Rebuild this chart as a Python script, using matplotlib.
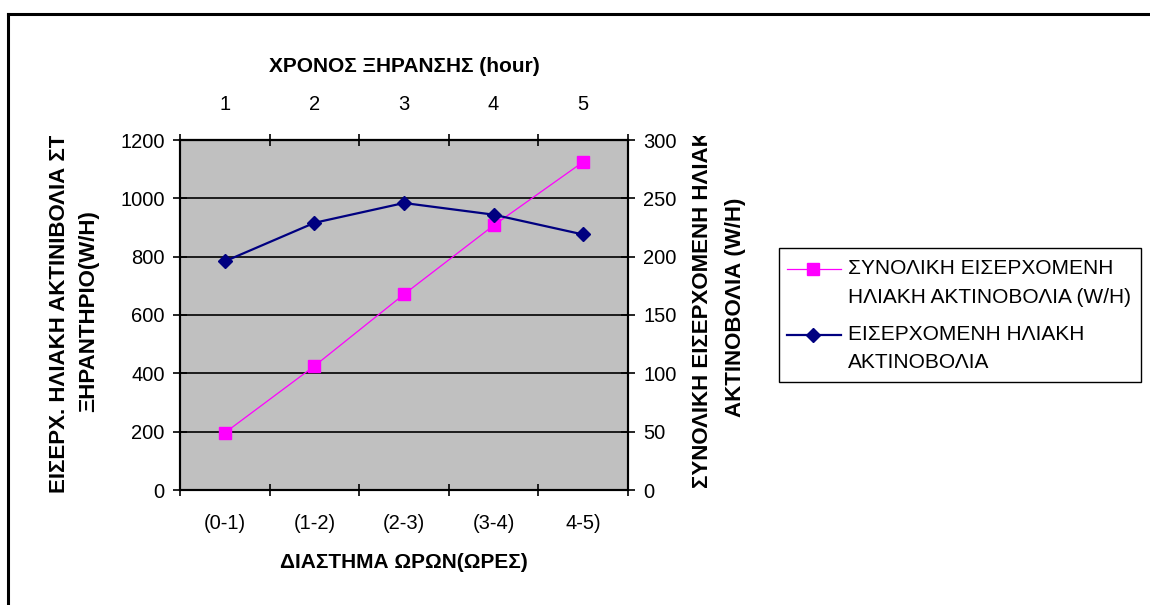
import matplotlib
matplotlib.use("Agg")
import matplotlib.pyplot as plt
from matplotlib.lines import Line2D
from matplotlib.patches import Rectangle
from matplotlib.transforms import Bbox, TransformedBbox

# ==== Data ====
intervals = ["(0-1)", "(1-2)", "(2-3)", "(3-4)", "4-5)"]
hours = ["1", "2", "3", "4", "5"]
total_radiation = [196, 425, 671, 907, 1125]     # left axis (W/H)
hourly_radiation = [196, 229, 246, 236, 219]     # right axis (W/H)

plt.rcParams['font.family'] = ['Liberation Sans', 'DejaVu Sans']

PINK = "#ff00ff"
NAVY = "#000080"
W, H = 1150, 605
TICK_FS = 14.5
TITLE_FS = 15
YLAB_FS = 16
LEG_FS = 15

fig = plt.figure(figsize=(11.5, 6.05), dpi=100)
fig.patch.set_facecolor("white")

# outer chart frame (left + top edges visible)
fig.add_artist(Line2D([8 / W, 8 / W], [0, 1 - 14 / H], color="black", lw=2.2,
                      transform=fig.transFigure))
fig.add_artist(Line2D([8 / W, 1], [1 - 14 / H, 1 - 14 / H], color="black", lw=2.2,
                      transform=fig.transFigure))

ax = fig.add_axes([180 / W, 1 - 490 / H, 448 / W, 350 / H])
ax.set_facecolor("#c0c0c0")
x = list(range(len(intervals)))

ax.plot(x, total_radiation, color=PINK, lw=0.9, marker="s", markersize=8.5,
        markeredgecolor=PINK, zorder=3)
ax.set_xlim(-0.5, len(intervals) - 0.5)
ax.set_ylim(0, 1200)
ax.set_yticks(range(0, 1201, 200))
ax.grid(axis="y", color="black", lw=1.2)
ax.set_axisbelow(True)

ax2 = ax.twinx()
ax2.plot(x, hourly_radiation, color=NAVY, lw=1.6, marker="D", markersize=7.5,
         markeredgecolor=NAVY, zorder=3)
ax2.set_ylim(0, 300)
ax2.set_yticks(range(0, 301, 50))

# bottom axis: ticks between categories, labels at centres
ax.set_xticks([i - 0.5 for i in range(len(intervals) + 1)])
ax.set_xticklabels([])
ax.set_xticks(x, minor=True)
ax.set_xticklabels(intervals, minor=True)
ax.tick_params(axis="x", which="major", direction="inout", length=8, width=1.2)
ax.tick_params(axis="x", which="minor", length=0, pad=17, labelsize=TICK_FS)

# top axis
top = ax.secondary_xaxis("top")
top.set_xticks([i - 0.5 for i in range(len(hours) + 1)])
top.set_xticklabels([])
top.set_xticks(x, minor=True)
top.set_xticklabels(hours, minor=True)
top.tick_params(axis="x", which="major", direction="inout", length=8, width=1.2)
top.tick_params(axis="x", which="minor", length=0, pad=19, labelsize=TICK_FS)
top.spines["top"].set_linewidth(1.5)

ax.tick_params(axis="y", direction="inout", length=10, width=1.2, pad=6, labelsize=TICK_FS)
ax2.tick_params(axis="y", direction="inout", length=10, width=1.2, pad=6, labelsize=TICK_FS)
for a in (ax, ax2):
    for s in a.spines.values():
        s.set_linewidth(1.5)

# axis titles
fig.text(404 / W, 1 - 67 / H, "ΧΡΟΝΟΣ ΞΗΡΑΝΣΗΣ (hour)", ha="center", va="center",
         fontsize=TITLE_FS, fontweight="bold")
fig.text(404 / W, 1 - 563 / H, "ΔΙΑΣΤΗΜΑ ΩΡΩΝ(ΩΡΕΣ)", ha="center", va="center",
         fontsize=TITLE_FS, fontweight="bold")

# the first line of each side title runs past the chart top and is cut off there
clip = TransformedBbox(Bbox([[0, 0], [1, 1 - 136 / H]]), fig.transFigure)
t1 = fig.text(60 / W, 1 - 493 / H, "ΕΙΣΕΡΧ. ΗΛΙΑΚΗ ΑΚΤΙΝΙΒΟΛΙΑ ΣΤΟ", rotation=90,
              ha="center", va="bottom", fontsize=YLAB_FS, fontweight="bold")
t1.set_clip_box(clip)
t1.set_clip_on(True)
fig.text(89 / W, 1 - 311 / H, "ΞΗΡΑΝΤΗΡΙΟ(W/H)", rotation=90,
         ha="center", va="center", fontsize=YLAB_FS, fontweight="bold")
t2 = fig.text(703 / W, 1 - 488 / H, "ΣΥΝΟΛΙΚΗ ΕΙΣΕΡΧΟΜΕΝΗ ΗΛΙΑΚΗ", rotation=90,
              ha="center", va="bottom", fontsize=YLAB_FS, fontweight="bold")
t2.set_clip_box(clip)
t2.set_clip_on(True)
fig.text(736 / W, 1 - 307 / H, "ΑΚΤΙΝΟΒΟΛΙΑ (W/H)", rotation=90,
         ha="center", va="center", fontsize=YLAB_FS, fontweight="bold")

# legend, drawn by hand like the spreadsheet one
fig.add_artist(Rectangle((779 / W, 1 - 382 / H), 362 / W, 134 / H, fill=False,
                         edgecolor="black", lw=1.0, transform=fig.transFigure))
entries = [
    (PINK, 0.9, "s", 8.5, ["ΣΥΝΟΛΙΚΗ ΕΙΣΕΡΧΟΜΕΝΗ", "ΗΛΙΑΚΗ ΑΚΤΙΝΟΒΟΛΙΑ (W/H)"], 269),
    (NAVY, 1.6, "D", 7.5, ["ΕΙΣΕΡΧΟΜΕΝΗ ΗΛΙΑΚΗ", "ΑΚΤΙΝΟΒΟΛΙΑ"], 335),
]
for color, lw, mk, ms, lines, ypx in entries:
    yy = 1 - ypx / H
    fig.add_artist(Line2D([787 / W, 841 / W], [yy, yy], color=color, lw=lw,
                          transform=fig.transFigure))
    fig.add_artist(Line2D([813 / W], [yy], color=color, marker=mk, markersize=ms,
                          transform=fig.transFigure))
    for k, txt in enumerate(lines):
        fig.text(848 / W, 1 - (ypx + 28 * k) / H, txt, ha="left", va="center",
                 fontsize=LEG_FS)

fig.savefig("out.png", dpi=100)
